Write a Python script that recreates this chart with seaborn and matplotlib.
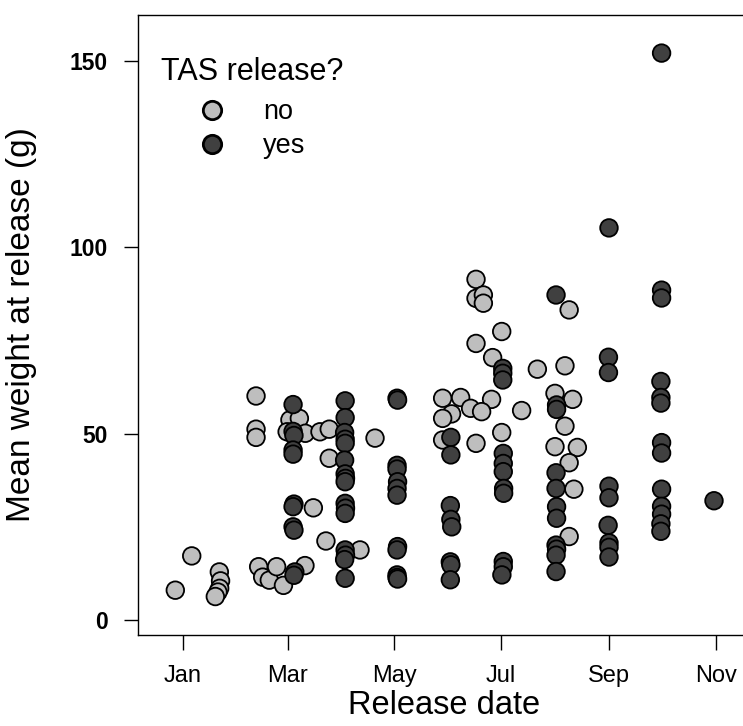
import matplotlib
matplotlib.use("Agg")
import matplotlib.pyplot as plt
from matplotlib.lines import Line2D
import seaborn as sns
import pandas as pd

# Release day (days since 1 January) and mean weight (g), fish not released by TAS
no_day = [-4.4, 5.0, 20.8, 21.5, 21.0, 20.0, 18.5,
          41.8, 41.8, 41.8, 43.3, 45.6, 49.4, 53.6, 57.5, 69.8,
          61.2, 66.6, 59.6, 70.0, 78.4, 83.7, 83.7, 74.6, 81.8, 109.9, 101.3,
          148.6, 158.9, 176.6, 164.6, 170.9, 153.7, 148.6, 193.8, 148.6, 167.7, 182.4,
          167.7, 167.7, 171.9, 171.9, 182.4, 167.7, 177.2, 202.8,
          221.0, 218.6, 212.9, 223.0, 218.6, 212.9, 225.7, 221.0, 223.7, 221.0]
no_weight = [8.0, 17.2, 12.9, 10.5, 8.5, 7.5, 6.3,
             60.1, 51.2, 49.0, 14.3, 11.5, 10.7, 14.3, 9.3, 14.6,
             53.7, 54.1, 50.5, 50.1, 50.5, 51.2, 43.4, 30.1, 21.2, 48.8, 18.8,
             59.5, 59.7, 59.2, 56.8, 55.9, 55.3, 54.1, 56.2, 48.3, 47.4, 50.3,
             91.4, 86.3, 87.2, 85.0, 77.4, 74.2, 70.4, 67.3,
             83.2, 68.2, 60.8, 59.2, 52.0, 46.5, 46.3, 42.2, 35.1, 22.4]

# Fish released by TAS
yes_day = [63.0, 63.0, 63.5, 63.0, 63.0, 63.5, 63.0, 63.0, 63.5, 64.0, 63.5,
           92.8, 92.8, 92.5, 92.8, 92.8, 92.5, 92.8, 93.0, 92.8, 92.8, 93.0, 92.8, 92.8, 93.0, 92.5, 92.8,
           122.5, 122.8, 122.5, 122.5, 122.8, 122.5, 122.5, 122.8, 122.5, 122.5, 122.5, 122.8,
           153.3, 153.3, 153.0, 153.3, 153.8, 153.0, 153.3, 153.0,
           183.0, 183.0, 183.0, 183.3, 183.3, 183.3, 183.5, 183.5, 183.3, 183.3, 182.5,
           213.5, 213.8, 213.8, 213.5, 213.5, 213.8, 213.8, 213.5, 213.8, 213.5, 213.5,
           243.8, 243.5, 243.5, 243.8, 243.8, 243.3, 243.8, 243.8, 243.8,
           273.9, 273.9, 273.9, 273.5, 273.5, 273.5, 273.9, 273.9, 273.9, 273.9, 273.9, 273.5, 273.5,
           303.9]
yes_weight = [57.8, 50.6, 49.5, 45.6, 44.5, 31.1, 30.4, 25.0, 24.1, 12.9, 12.0,
              58.8, 54.3, 50.3, 48.5, 47.4, 42.9, 39.2, 38.0, 37.1, 31.3, 30.0, 28.6, 18.8, 17.4, 16.2, 11.2,
              59.5, 59.0, 41.5, 40.5, 37.1, 35.3, 33.5, 19.7, 18.8, 12.1, 11.4, 11.0,
              49.0, 44.3, 30.7, 27.0, 25.0, 15.6, 14.8, 10.8,
              67.5, 66.2, 64.4, 44.7, 42.0, 39.8, 35.3, 34.0, 15.7, 14.3, 12.1,
              87.2, 57.7, 56.5, 39.5, 35.3, 30.4, 27.3, 20.1, 19.0, 17.4, 13.0,
              105.2, 70.5, 66.4, 35.9, 32.8, 25.4, 20.7, 19.5, 16.9,
              152.1, 88.5, 86.4, 64.0, 59.7, 58.2, 47.6, 44.8, 35.1, 30.5, 28.4, 25.8, 23.8,
              32.0]

month_ticks = [0, 60, 121, 182, 244, 305]
month_labels = ["Jan", "Mar", "May", "Jul", "Sep", "Nov"]
weight_ticks = [0, 50, 100, 150]
groups = ["no", "yes"]
fills = {"no": "#bebebe", "yes": "#404040"}

df = pd.DataFrame({
    "day": no_day + yes_day,
    "weight": no_weight + yes_weight,
    "tas": ["no"] * len(no_day) + ["yes"] * len(yes_day),
})

sns.set_style("white")
plt.rcParams["font.family"] = ["Liberation Sans", "DejaVu Sans"]
plt.rcParams.update({"text.color": "black", "axes.labelcolor": "black",
                     "xtick.color": "black", "ytick.color": "black"})

W, H = 743, 726
fig = plt.figure(figsize=(W / 100, H / 100), dpi=100)
left_px, right_px, top_px, bottom_px = 138, 750, 14.7, 635
ax = fig.add_axes([left_px / W, 1 - bottom_px / H,
                   (right_px - left_px) / W, (bottom_px - top_px) / H])

sns.scatterplot(data=df, x="day", y="weight", hue="tas", hue_order=groups,
                palette=fills, s=160, edgecolor="black", linewidth=1.3,
                alpha=1, legend=False, ax=ax)

ax.set_xlim(-25.75, 324.5)
ax.set_ylim(-4.02, 162.4)

ax.set_xticks(month_ticks)
ax.set_xticklabels(month_labels)
ax.set_yticks(weight_ticks)
ax.set_yticklabels([str(v) for v in weight_ticks], fontweight="bold")

ax.tick_params(axis="x", length=10.8, width=1.0, pad=11, labelsize=17,
               direction="out", color="black", bottom=True)
ax.tick_params(axis="y", length=10, width=1.0, pad=12, labelsize=16.5,
               direction="out", color="black", left=True)

for side in ["left", "bottom", "top"]:
    ax.spines[side].set_visible(True)
    ax.spines[side].set_color("black")
    ax.spines[side].set_linewidth(1.0)
ax.spines["right"].set_visible(False)

ax.set_xlabel("Release date", fontsize=23.5)
ax.set_ylabel("Mean weight at release (g)", fontsize=24)
ax.xaxis.set_label_coords(0.5, (bottom_px - 706) / (bottom_px - top_px))
ax.xaxis.label.set_va("center")
ax.yaxis.set_label_coords((22 - left_px) / (right_px - left_px), 0.5)
ax.yaxis.label.set_va("center")

# Legend: title as its own line, entries below it
fig.text(161 / W, 1 - 80 / H, "TAS release?", fontsize=22, va="baseline", ha="left")
handles = [Line2D([], [], linestyle="none", marker="o", markersize=13.2,
                  markerfacecolor=fills[g], markeredgecolor="black",
                  markeredgewidth=2.0, label=g) for g in groups]
leg = ax.legend(handles=handles, loc="center left",
                bbox_to_anchor=(161 / W, 1 - 129.2 / H),
                bbox_transform=fig.transFigure, frameon=False,
                fontsize=19.5, handlelength=3.76, handletextpad=0.0,
                labelspacing=0.31, borderpad=0, borderaxespad=0)

fig.savefig("out.png", dpi=100)
